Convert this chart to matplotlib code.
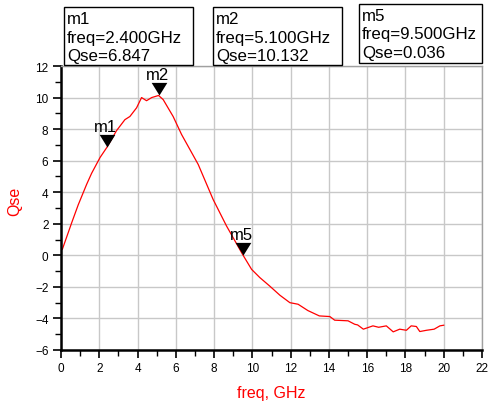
import matplotlib
matplotlib.use("Agg")
import matplotlib.pyplot as plt
from matplotlib.patches import Rectangle

plt.rcParams['font.family'] = ['Liberation Sans', 'DejaVu Sans']

freq = [0.0, 0.07, 0.56, 0.9, 1.34, 1.6, 2.04, 2.4, 2.9, 3.34, 3.6, 3.95, 4.21, 4.47, 4.74,
        5.1, 5.34, 5.86, 6.3, 6.74, 7.17, 7.95, 8.65, 9.5, 9.96, 10.39, 10.9, 11.44,
        11.96, 12.39, 12.9, 13.5, 14.05, 14.3, 15.0, 15.35, 15.5, 15.8, 16.3, 16.6, 17.0,
        17.36, 17.7, 18.05, 18.3, 18.57, 18.75, 19.1, 19.5, 19.8, 20.0]
qse = [0.35, 0.38, 2.07, 3.2, 4.5, 5.2, 6.2, 6.847, 7.9, 8.6, 8.8, 9.35, 10.0, 9.8, 10.0,
       10.132, 9.87, 8.8, 7.66, 6.7, 5.76, 3.54, 1.86, 0.036, -0.89, -1.41, -1.94, -2.53,
       -3.0, -3.1, -3.5, -3.84, -3.88, -4.11, -4.15, -4.37, -4.41, -4.68, -4.47, -4.56, -4.47,
       -4.85, -4.68, -4.75, -4.47, -4.51, -4.83, -4.75, -4.68, -4.47, -4.43]

marker_names = ["m1", "m2", "m5"]
marker_freq = [2.4, 5.1, 9.5]
marker_qse = [6.847, 10.132, 0.036]
marker_freq_text = ["2.400", "5.100", "9.500"]
marker_qse_text = ["6.847", "10.132", "0.036"]

fig = plt.figure(figsize=(4.91, 4.10), dpi=100)
ax = fig.add_axes([61/491, 1-351/410, (482-61)/491, (351-67)/410])

ax.plot(freq, qse, color='red', lw=0.9)
tri = [(-0.62, 1.0), (0.62, 1.0), (0.0, 0.0), (-0.62, 1.0)]
ax.scatter(marker_freq, marker_qse, marker=tri, s=330, color='black', zorder=5,
           clip_on=False, linewidths=0)
for n, fx, fy in zip(marker_names, marker_freq, marker_qse):
    ax.annotate(n, (fx, fy), xytext=(-1, 9.5), textcoords='offset points',
                ha='center', va='bottom', fontsize=12)

ax.set_xlim(0, 22)
ax.set_ylim(-6, 12)
ax.set_xticks(range(0, 23, 2))
ax.set_yticks(range(-6, 13, 2))
ax.set_xticks(range(0, 23, 1), minor=True)
ax.set_yticks(range(-6, 13, 1), minor=True)
ax.grid(True, which='major', color='#c8c8c8', lw=1)
ax.tick_params(which='major', direction='out', length=6, width=1.2, labelsize=8.5, pad=3)
ax.tick_params(which='minor', direction='out', length=4, width=1)
for s in ['left', 'bottom']:
    ax.spines[s].set_linewidth(1.8)
for s in ['top', 'right']:
    ax.spines[s].set_color('#a0a0a0')
    ax.spines[s].set_linewidth(1)
ax.set_axisbelow(True)

fig.text(15/491, 1-201/410, "Qse", color='red', rotation=90, ha='center', va='center', fontsize=11.5)
fig.text(271/491, 1-394/410, "freq, GHz", color='red', ha='center', va='center', fontsize=11.5)

boxes = [(64, 8, 193, 66), (213, 8, 342, 66), (359, 5, 482, 64)]
for (x0, y0, x1, y1), n, ft, qt in zip(boxes, marker_names, marker_freq_text, marker_qse_text):
    r = Rectangle((x0/491, 1-y1/410), (x1-x0)/491, (y1-y0)/410, transform=fig.transFigure,
                  facecolor='white', edgecolor='black', lw=1, zorder=10)
    fig.add_artist(r)
    lines = [n, "freq=" + ft + "GHz", "Qse=" + qt]
    for i, line in enumerate(lines):
        fig.text((x0+3)/491, 1-(y0 + 16 + 18.5*i)/410, line, ha='left', va='baseline',
                 fontsize=12.2, zorder=11)

fig.savefig("out.png", dpi=100)
